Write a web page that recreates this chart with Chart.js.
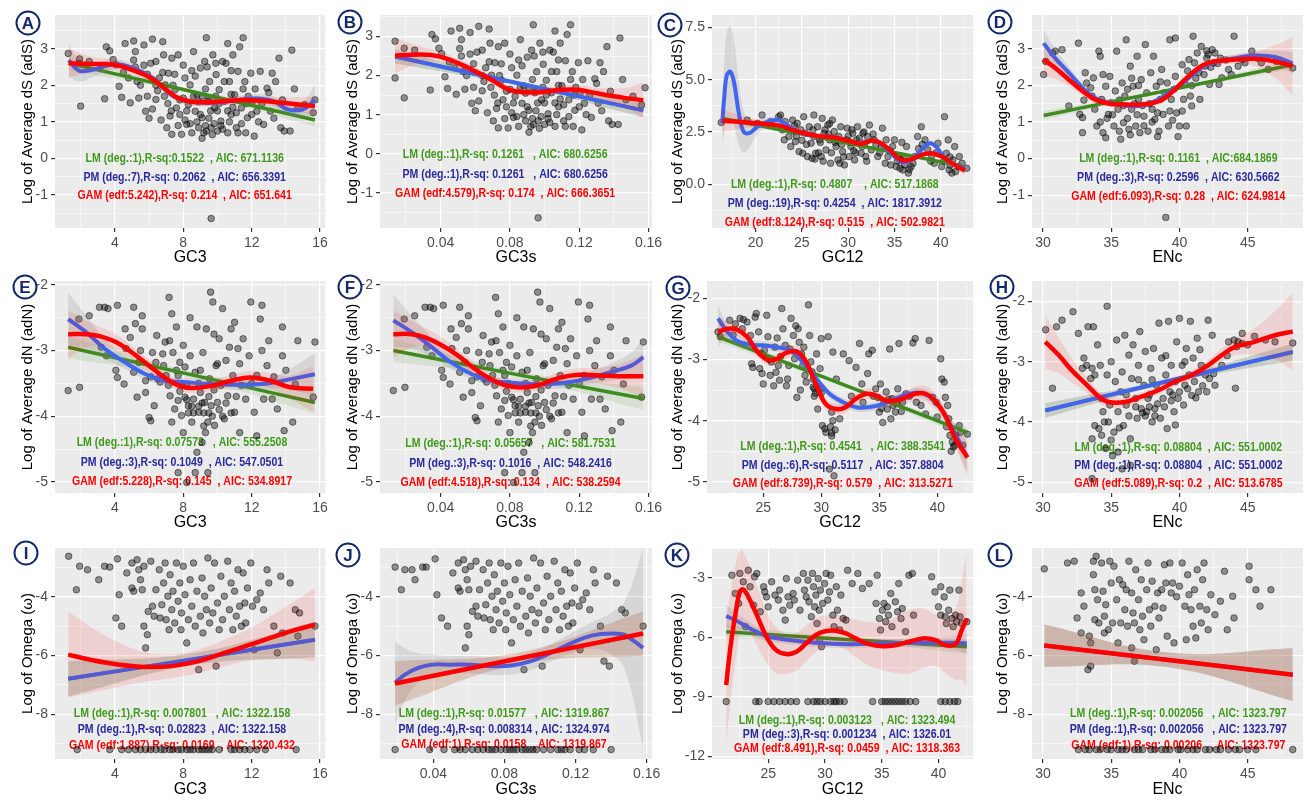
<!DOCTYPE html>
<html>
<head>
<meta charset="utf-8">
<title>adS / adN / omega regressions</title>
<script src="https://cdn.jsdelivr.net/npm/chart.js@4.4.1/dist/chart.umd.min.js"></script>
<style>
  body { margin: 0; width: 1309px; height: 800px; overflow: hidden; background: #fff; position: relative; }
  canvas { position: absolute; }
</style>
</head>
<body>
<script>
// ---- scatter points (x, y) per panel ----
const ptsA = [[1.27,2.87],[1.94,2.72],[1.9,2.6],[2.0,1.43],[2.5,2.65],[3.5,3.05],[3.7,2.94],[3.4,1.63],[4.06,2.56],[4.25,1.97],[4.6,3.14],[4.4,1.67],[4.9,1.52],[5.1,3.21],[5.1,2.69],[5.2,2.92],[5.3,2.1],[5.4,1.65],[5.7,3.1],[5.8,1.29],[6.0,1.1],[6.2,3.26],[6.4,2.65],[6.4,1.61],[6.6,2.2],[6.8,3.19],[6.85,2.83],[6.94,2.01],[7.04,0.84],[7.13,2.33],[7.23,1.16],[7.33,2.74],[7.33,0.66],[7.52,1.88],[7.6,1.38],[7.7,2.83],[7.8,1.2],[7.9,0.66],[8.0,1.65],[8.1,2.2],[8.2,0.93],[8.3,1.47],[8.4,2.01],[8.5,0.7],[8.6,2.92],[8.7,1.29],[8.8,1.74],[8.9,0.84],[9.0,2.47],[9.1,1.11],[9.1,0.55],[9.25,2.65],[9.35,0.75],[9.35,3.3],[9.44,1.56],[9.54,2.1],[9.63,0.84],[9.63,-1.64],[9.73,2.83],[9.83,1.38],[9.92,2.29],[10.0,0.75],[10.1,1.88],[10.2,1.02],[10.3,2.65],[10.4,1.56],[10.6,3.14],[10.6,0.7],[10.7,2.1],[10.8,1.2],[10.9,2.83],[11.0,1.74],[11.1,0.84],[11.2,2.38],[11.3,3.05],[11.4,1.38],[11.5,3.3],[11.6,2.1],[11.65,0.7],[11.75,1.11],[11.95,2.33],[12.05,1.56],[12.15,0.61],[12.3,1.29],[12.5,2.38],[12.7,0.93],[12.9,1.92],[13.1,1.29],[13.2,2.33],[13.4,2.1],[13.6,2.74],[13.7,0.84],[13.9,0.75],[14.25,0.75],[14.35,2.96],[14.7,1.38],[15.1,1.47],[15.6,1.25],[15.7,1.6],[7.5,2.3],[7.8,1.6],[8.2,1.3],[8.4,0.95],[8.7,2.25],[9.0,1.2],[9.2,0.7],[9.3,1.9],[9.6,1.3],[9.7,0.65],[9.9,1.7],[10.2,0.9],[10.4,2.1],[10.7,1.0],[10.9,1.4],[11.2,0.7],[6.2,1.35],[6.5,1.85],[6.1,2.6],[5.7,2.55],[5.9,1.7],[6.8,2.35],[7.1,1.5],[8.0,2.55],[9.4,2.5],[10.5,2.6],[11.8,1.7],[12.4,1.0],[13.0,1.8],[4.8,2.2],[5.5,2.0],[6.7,1.05],[8.9,1.55],[9.5,1.1],[10.0,1.3],[11.5,1.9],
  [7.3,1.3],[7.7,0.9],[8.1,1.05],[8.6,1.7],[8.8,1.0],[9.1,1.7],[9.3,0.9],[9.5,1.65],[9.8,0.95],[10.1,1.5],[10.3,0.8],[10.6,1.3],[10.8,1.75],[11.1,1.25],[11.4,0.95],[11.7,1.5],[12.0,1.2],[12.6,1.5],[13.3,1.1],[6.9,1.7],[7.4,2.0],[8.5,2.4],[9.9,2.6],[10.8,2.4],[12.2,1.9],[5.9,2.3],[6.4,2.0],[5.2,2.5],[4.5,2.35],[3.9,2.7],[13.8,1.6],[14.5,1.9]];
const ptsB = [[0.0137,2.88],[0.0137,1.94],[0.019,2.7],[0.019,1.43],[0.025,2.65],[0.035,3.05],[0.037,2.94],[0.034,1.63],[0.0406,2.56],[0.0425,1.97],[0.046,3.14],[0.044,1.67],[0.049,1.52],[0.051,3.21],[0.051,2.69],[0.052,2.92],[0.053,2.1],[0.054,1.65],[0.057,3.1],[0.058,1.29],[0.06,1.1],[0.062,3.26],[0.064,2.65],[0.064,1.61],[0.066,2.2],[0.068,3.19],[0.0685,2.83],[0.0694,2.01],[0.0704,0.84],[0.0713,2.33],[0.0723,1.16],[0.0733,2.74],[0.0733,0.66],[0.0752,1.88],[0.076,1.38],[0.077,2.83],[0.078,1.2],[0.079,0.66],[0.08,1.65],[0.081,2.2],[0.082,0.93],[0.083,1.47],[0.084,2.01],[0.085,0.7],[0.086,2.92],[0.087,1.29],[0.088,1.74],[0.089,0.84],[0.09,2.47],[0.091,1.11],[0.091,0.55],[0.0925,2.65],[0.0935,0.75],[0.0935,3.3],[0.0944,1.56],[0.0954,2.1],[0.0963,0.84],[0.0963,-1.64],[0.0973,2.83],[0.0983,1.38],[0.0992,2.29],[0.1,0.75],[0.101,1.88],[0.102,1.02],[0.103,2.65],[0.104,1.56],[0.106,3.14],[0.106,0.7],[0.107,2.1],[0.108,1.2],[0.109,2.83],[0.11,1.74],[0.111,0.84],[0.112,2.38],[0.113,3.05],[0.114,1.38],[0.115,3.3],[0.116,2.1],[0.1165,0.7],[0.1175,1.11],[0.1195,2.33],[0.1205,1.56],[0.1215,0.61],[0.123,1.29],[0.125,2.38],[0.127,0.93],[0.129,1.92],[0.131,1.29],[0.132,2.33],[0.134,2.1],[0.136,2.74],[0.137,0.84],[0.139,0.75],[0.1425,0.75],[0.1435,2.96],[0.147,1.38],[0.151,1.47],[0.156,1.25],[0.158,1.69],[0.075,2.3],[0.078,1.6],[0.082,1.3],[0.084,0.95],[0.087,2.25],[0.09,1.2],[0.092,0.7],[0.093,1.9],[0.096,1.3],[0.097,0.65],[0.099,1.7],[0.102,0.9],[0.104,2.1],[0.107,1.0],[0.109,1.4],[0.112,0.7],[0.062,1.35],[0.065,1.85],[0.061,2.6],[0.057,2.55],[0.059,1.7],[0.068,2.35],[0.071,1.5],[0.08,2.55],[0.094,2.5],[0.105,2.6],[0.118,1.7],[0.124,1.0],[0.13,1.8],[0.048,2.2],[0.055,2.0],[0.067,1.05],[0.089,1.55],[0.095,1.1],[0.1,1.3],[0.115,1.9],
  [0.073,1.3],[0.077,0.9],[0.081,1.05],[0.086,1.7],[0.088,1.0],[0.091,1.7],[0.093,0.9],[0.095,1.65],[0.098,0.95],[0.101,1.5],[0.103,0.8],[0.106,1.3],[0.108,1.75],[0.111,1.25],[0.114,0.95],[0.117,1.5],[0.12,1.2],[0.126,1.5],[0.133,1.1],[0.069,1.7],[0.074,2.0],[0.085,2.4],[0.099,2.6],[0.108,2.4],[0.122,1.9],[0.059,2.3],[0.064,2.0],[0.052,2.5],[0.045,2.35],[0.039,2.7],[0.138,1.6],[0.145,1.9]];
const ptsC = [[16.3,2.95],[19.1,3.07],[20.2,2.91],[20.7,3.31],[21.6,2.99],[22.2,2.75],[22.5,3.23],[22.7,3.31],[22.9,2.6],[23.1,2.12],[23.4,2.75],[23.6,2.28],[23.8,1.8],[24.0,3.07],[24.2,2.52],[24.3,2.04],[24.5,2.91],[24.7,1.56],[24.9,2.6],[25.1,1.48],[25.2,3.23],[25.4,2.44],[25.6,1.32],[25.8,2.75],[26.0,1.96],[26.1,1.24],[26.3,3.31],[26.3,2.28],[26.5,1.48],[26.7,2.75],[26.9,2.12],[27.1,1.32],[27.2,3.15],[27.4,2.44],[27.6,1.64],[27.8,2.83],[28.0,2.12],[28.1,1.0],[28.3,3.07],[28.5,2.52],[28.7,1.8],[28.9,1.16],[29.0,2.28],[29.2,2.75],[29.4,1.56],[29.6,0.92],[29.8,2.12],[29.9,2.68],[30.1,1.32],[30.3,1.8],[30.5,2.44],[30.7,1.16],[30.9,2.12],[31.0,2.75],[31.4,1.48],[31.6,2.44],[31.8,1.96],[31.9,1.32],[32.1,2.28],[32.3,2.83],[32.5,1.64],[32.8,2.12],[33.2,1.32],[33.6,1.8],[33.7,2.68],[34.1,2.12],[34.3,1.32],[34.6,0.92],[34.8,1.8],[35.0,2.12],[35.2,0.84],[35.4,1.32],[35.6,0.76],[35.7,1.16],[35.9,0.68],[36.1,0.92],[36.3,1.8],[36.5,0.53],[36.8,0.84],[37.2,1.32],[37.5,2.28],[37.9,2.75],[38.3,2.12],[38.6,1.64],[39.0,1.32],[39.3,1.0],[39.7,1.96],[40.1,0.84],[40.4,3.23],[40.6,1.48],[40.8,2.12],[40.9,0.68],[41.2,0.53],[41.3,1.16],[41.5,1.8],[41.9,0.84],[42.0,1.32],[42.8,0.76],[28.6,2.0],[29.3,1.9],[30.0,2.3],[30.6,1.6],[31.2,2.2],[26.8,1.5],[27.9,2.4],
  [24.4,2.3],[25.0,2.1],[25.5,1.9],[26.2,2.6],[27.0,2.0],[27.5,2.6],[28.2,1.5],[28.8,2.1],[29.5,1.3],[30.2,2.0],[30.8,1.5],[31.5,1.8],[32.0,1.1],[32.7,2.4],[33.4,1.5],[34.0,1.0],[34.5,1.6],[35.3,1.1],[36.0,1.3],[36.6,0.7],[37.0,1.0],[38.0,1.9],[38.9,1.1],[39.5,1.5],[40.3,1.1],[41.0,0.9],[41.6,0.6],[42.3,1.0],[26.4,1.2],[27.3,1.1],[29.1,1.0],[33.0,1.9],[35.8,2.0],[37.6,1.7],[41.0,1.3],[30.4,2.6],[31.7,2.5],[28.0,2.9],[24.2,2.8],[23.2,3.0]];
const ptsD = [[30.05,2.3],[30.2,2.66],[30.7,2.89],[30.9,2.94],[31.4,2.98],[31.9,1.44],[32.6,3.16],[32.7,1.21],[32.9,0.71],[32.9,1.12],[33.1,2.35],[33.2,2.07],[33.5,1.94],[33.6,1.71],[33.7,2.21],[33.8,1.35],[33.95,0.89],[34.1,2.94],[34.2,2.8],[34.3,1.62],[34.4,0.71],[34.6,1.98],[34.6,0.57],[34.8,1.21],[34.9,2.25],[35.0,1.53],[35.2,0.89],[35.3,1.85],[35.4,2.94],[35.5,1.35],[35.7,0.53],[35.8,2.07],[35.9,0.98],[36.0,1.71],[36.1,3.25],[36.3,0.8],[36.4,2.53],[36.5,1.35],[36.6,1.98],[36.8,0.89],[36.9,2.8],[37.0,1.62],[37.1,0.71],[37.2,2.16],[37.4,1.16],[37.5,3.12],[37.6,1.8],[37.7,0.75],[37.9,2.35],[38.0,1.35],[38.1,2.8],[38.2,1.07],[38.3,1.98],[38.5,0.75],[38.6,1.62],[38.7,2.44],[38.8,1.21],[39.0,-1.61],[39.1,2.07],[39.2,0.89],[39.3,3.25],[39.4,1.62],[39.7,3.3],[39.7,2.25],[39.8,1.25],[40.0,0.89],[40.2,2.57],[40.3,1.62],[40.4,2.07],[40.5,0.89],[40.7,2.71],[40.8,1.71],[40.9,1.44],[41.0,3.35],[41.1,2.62],[41.3,2.89],[41.4,2.35],[41.5,1.62],[41.6,3.07],[41.9,2.53],[42.0,2.75],[42.1,2.85],[42.2,2.03],[42.4,2.98],[42.5,2.62],[42.6,2.89],[42.9,2.03],[43.0,2.75],[43.1,2.21],[43.6,2.44],[44.0,3.35],[44.3,2.53],[44.6,2.71],[44.8,2.62],[45.3,2.94],[45.7,2.75],[46.0,2.62],[46.5,2.44],[47.1,2.66],[48.3,2.48],[36.2,1.1],[37.3,1.45],[38.4,1.25],[35.6,1.6],[39.5,1.05],[34.7,1.1],[36.7,1.5],
  [34.2,1.0],[35.1,1.2],[35.6,0.75],[36.2,1.9],[36.9,1.2],[37.4,0.9],[37.8,1.5],[38.4,0.6],[38.9,1.8],[39.3,1.3],[39.9,0.6],[35.9,1.45],[36.4,0.65],[37.0,2.0],[38.0,1.0],[39.6,1.9],[40.9,2.0],[41.8,2.3],[42.3,2.5],[42.8,2.6],[43.4,2.7],[41.2,2.2],[33.0,1.6],[34.4,2.3],[36.5,2.2],[38.6,2.1],[40.2,1.3],[40.6,2.4],[43.8,2.3],[42.0,2.95]];
const ptsE = [[1.27,-3.61],[1.94,-3.56],[1.9,-2.52],[2.5,-2.47],[3.1,-2.34],[3.4,-2.34],[3.6,-2.36],[3.2,-2.95],[3.5,-3.08],[4.06,-3.3],[4.15,-3.41],[4.15,-2.31],[4.54,-3.51],[4.6,-2.67],[4.65,-2.97],[5.1,-2.34],[5.1,-3.33],[5.2,-2.59],[5.3,-3.71],[5.4,-3.18],[5.6,-2.47],[5.6,-2.67],[5.8,-3.46],[5.8,-3.64],[6.1,-4.07],[6.2,-3.03],[6.3,-3.84],[6.4,-3.18],[6.45,-2.77],[6.5,-3.43],[6.65,-3.48],[6.85,-3.23],[6.94,-2.87],[7.0,-3.38],[7.13,-3.53],[7.17,-2.19],[7.23,-3.69],[7.33,-2.44],[7.33,-4.09],[7.4,-3.03],[7.5,-3.89],[7.6,-2.64],[7.7,-3.38],[7.7,-3.76],[7.8,-3.18],[7.9,-3.99],[8.0,-2.92],[8.0,-4.25],[8.1,-3.71],[8.2,-3.53],[8.3,-3.84],[8.4,-3.08],[8.5,-4.09],[8.6,-3.74],[8.7,-3.33],[8.7,-4.86],[8.8,-2.64],[8.9,-3.94],[9.0,-3.64],[9.1,-4.4],[9.15,-3.03],[9.25,-3.79],[9.35,-2.67],[9.44,-4.09],[9.44,-4.86],[9.54,-3.43],[9.6,-2.11],[9.63,-3.84],[9.73,-2.26],[9.83,-4.14],[9.92,-3.23],[10.0,-3.79],[10.1,-2.82],[10.2,-3.53],[10.3,-2.36],[10.4,-4.04],[10.5,-3.15],[10.6,-3.69],[10.8,-2.67],[10.9,-3.38],[11.0,-3.94],[11.0,-2.57],[11.2,-2.97],[11.3,-4.25],[11.4,-3.53],[11.5,-2.82],[11.65,-3.74],[11.85,-3.08],[11.95,-2.26],[12.15,-3.94],[12.3,-3.38],[12.5,-2.52],[12.6,-2.31],[12.7,-3.74],[12.9,-3.23],[13.0,-2.85],[13.2,-3.74],[13.5,-3.89],[13.8,-3.08],[13.8,-2.64],[13.9,-4.22],[14.4,-4.09],[14.55,-3.51],[14.7,-2.85],[15.6,-3.71],[15.7,-2.87],[7.7,-4.86],[8.2,-5.01],[6.0,-4.02],[8.8,-4.55],[12.3,-4.3],[8.3,-3.95],[8.9,-3.85],[9.2,-4.15],[9.5,-3.95],[9.8,-3.6],[8.5,-3.85],[9.1,-3.8],[7.8,-3.62],[9.3,-4.25],[10.3,-4.0],
  [7.9,-3.5],[8.2,-3.75],[8.6,-3.95],[8.9,-3.5],[9.2,-3.95],[9.5,-3.7],[9.7,-4.0],[10.1,-3.9],[10.5,-3.8],[10.8,-3.95],[11.1,-3.7],[7.6,-3.3],[8.1,-3.25],[9.0,-3.3],[10.0,-3.2],[11.3,-3.2],[12.0,-3.5],[6.8,-3.05],[7.2,-2.85],[6.1,-3.4],[5.5,-3.0],[4.9,-2.8],[12.6,-3.0],[13.3,-3.4],[14.0,-3.3],[10.7,-2.95],[9.8,-2.75],[8.4,-2.5]];
const ptsF = [[0.0127,-3.61],[0.0194,-3.56],[0.019,-2.52],[0.025,-2.47],[0.031,-2.34],[0.034,-2.34],[0.036,-2.36],[0.032,-2.95],[0.035,-3.08],[0.0406,-3.3],[0.0415,-3.41],[0.0415,-2.31],[0.0454,-3.51],[0.046,-2.67],[0.0465,-2.97],[0.051,-2.34],[0.051,-3.33],[0.052,-2.59],[0.053,-3.71],[0.054,-3.18],[0.056,-2.47],[0.056,-2.67],[0.058,-3.46],[0.058,-3.64],[0.061,-4.07],[0.062,-3.03],[0.063,-3.84],[0.064,-3.18],[0.0645,-2.77],[0.065,-3.43],[0.0665,-3.48],[0.0685,-3.23],[0.0694,-2.87],[0.07,-3.38],[0.0713,-3.53],[0.0717,-2.19],[0.0723,-3.69],[0.0733,-2.44],[0.0733,-4.09],[0.074,-3.03],[0.075,-3.89],[0.076,-2.64],[0.077,-3.38],[0.077,-3.76],[0.078,-3.18],[0.079,-3.99],[0.08,-2.92],[0.08,-4.25],[0.081,-3.71],[0.082,-3.53],[0.083,-3.84],[0.084,-3.08],[0.085,-4.09],[0.086,-3.74],[0.087,-3.33],[0.087,-4.86],[0.088,-2.64],[0.089,-3.94],[0.09,-3.64],[0.091,-4.4],[0.0915,-3.03],[0.0925,-3.79],[0.0935,-2.67],[0.0944,-4.09],[0.0944,-4.86],[0.0954,-3.43],[0.096,-2.11],[0.0963,-3.84],[0.0973,-2.26],[0.0983,-4.14],[0.0992,-3.23],[0.1,-3.79],[0.101,-2.82],[0.102,-3.53],[0.103,-2.36],[0.104,-4.04],[0.105,-3.15],[0.106,-3.69],[0.108,-2.67],[0.109,-3.38],[0.11,-3.94],[0.11,-2.57],[0.112,-2.97],[0.113,-4.25],[0.114,-3.53],[0.115,-2.82],[0.1165,-3.74],[0.1185,-3.08],[0.1195,-2.26],[0.1215,-3.94],[0.123,-3.38],[0.125,-2.52],[0.126,-2.31],[0.127,-3.74],[0.129,-3.23],[0.13,-2.85],[0.132,-3.74],[0.135,-3.89],[0.138,-3.08],[0.138,-2.64],[0.139,-4.22],[0.144,-4.09],[0.1455,-3.51],[0.147,-2.85],[0.156,-3.71],[0.157,-2.87],[0.077,-4.86],[0.082,-5.01],[0.06,-4.02],[0.088,-4.55],[0.123,-4.3],[0.083,-3.95],[0.089,-3.85],[0.092,-4.15],[0.095,-3.95],[0.098,-3.6],[0.085,-3.85],[0.091,-3.8],[0.078,-3.62],[0.093,-4.25],[0.103,-4.0],
  [0.079,-3.5],[0.082,-3.75],[0.086,-3.95],[0.089,-3.5],[0.092,-3.95],[0.095,-3.7],[0.097,-4.0],[0.101,-3.9],[0.105,-3.8],[0.108,-3.95],[0.111,-3.7],[0.076,-3.3],[0.081,-3.25],[0.09,-3.3],[0.1,-3.2],[0.113,-3.2],[0.12,-3.5],[0.068,-3.05],[0.072,-2.85],[0.061,-3.4],[0.055,-3.0],[0.049,-2.8],[0.126,-3.0],[0.133,-3.4],[0.14,-3.3],[0.107,-2.95],[0.098,-2.75],[0.084,-2.5]];
const ptsG = [[21.1,-2.55],[21.3,-2.63],[22.1,-2.36],[22.6,-2.42],[23.0,-2.33],[23.3,-2.35],[23.6,-2.39],[23.9,-2.61],[24.0,-3.07],[24.1,-3.13],[24.3,-2.31],[24.4,-2.25],[24.6,-2.55],[24.7,-3.15],[24.9,-3.23],[25.0,-3.4],[25.1,-2.85],[25.3,-2.28],[25.4,-2.63],[25.6,-3.26],[25.7,-3.04],[25.9,-3.43],[26.0,-2.8],[26.1,-3.21],[26.3,-3.1],[26.4,-3.34],[26.6,-2.17],[26.7,-2.5],[26.9,-2.77],[27.0,-3.43],[27.1,-3.32],[27.3,-2.83],[27.4,-2.33],[27.6,-2.61],[27.7,-2.99],[27.9,-3.62],[28.0,-2.5],[28.1,-2.72],[28.3,-2.91],[28.4,-3.1],[28.6,-3.26],[28.7,-3.37],[28.9,-2.11],[29.0,-2.61],[29.1,-3.04],[29.3,-3.32],[29.4,-3.48],[29.6,-2.91],[29.7,-3.81],[29.9,-3.15],[30.0,-2.66],[30.1,-4.08],[30.3,-4.13],[30.4,-4.19],[30.6,-2.63],[30.7,-4.79],[30.9,-3.86],[31.0,-2.88],[31.1,-4.9],[31.3,-3.32],[31.6,-3.97],[31.9,-2.91],[32.4,-3.02],[33.0,-3.13],[33.3,-2.74],[33.6,-3.7],[34.0,-3.23],[34.1,-2.91],[34.4,-2.85],[34.7,-3.48],[34.9,-3.62],[35.0,-3.86],[35.1,-3.4],[35.3,-4.03],[35.4,-3.7],[35.6,-3.53],[35.7,-3.81],[35.9,-2.83],[36.0,-3.97],[36.1,-3.64],[36.4,-3.86],[36.6,-3.48],[36.7,-2.74],[37.0,-3.7],[37.3,-3.56],[37.9,-2.73],[38.1,-2.66],[38.6,-3.75],[39.0,-3.89],[39.3,-2.69],[39.6,-3.62],[39.9,-3.7],[40.0,-3.94],[40.3,-2.99],[40.4,-3.32],[40.6,-3.37],[40.7,-3.62],[40.9,-3.75],[41.0,-3.97],[41.1,-4.24],[41.3,-4.35],[41.4,-4.43],[41.6,-4.24],[41.7,-4.33],[41.9,-4.08],[42.0,-4.19],[42.6,-4.22],[29.3,-3.45],[29.5,-3.55],[29.8,-3.5],[29.6,-3.38],[30.8,-4.1],[30.9,-4.2],[31.0,-4.0],[36.2,-3.75],[36.5,-3.72],
  [29.4,-3.6],[29.7,-3.4],[30.0,-3.55],[29.2,-3.2],[30.9,-4.25],[31.2,-4.15],[24.8,-2.9],[25.5,-3.0],[26.5,-2.95],[27.2,-3.1],[28.5,-2.8],[35.2,-3.8],[35.8,-3.65],[36.9,-3.85],[37.6,-3.6],[38.2,-3.7],[41.2,-4.5],[41.5,-4.4],[42.2,-4.4],[40.8,-4.1],[34.5,-3.6],[33.5,-3.4],[32.6,-3.6],[23.2,-2.5],[22.4,-2.6],[26.2,-2.65],[27.8,-2.45],[28.2,-3.5]];
const ptsH = [[30.2,-2.47],[30.7,-3.44],[31.0,-2.42],[31.4,-2.31],[32.2,-2.17],[32.6,-2.53],[32.9,-3.11],[33.0,-2.94],[33.2,-3.06],[33.3,-2.42],[33.5,-3.28],[33.6,-3.11],[33.6,-4.28],[33.7,-2.42],[33.8,-4.06],[33.8,-3.22],[34.0,-2.72],[34.1,-4.11],[34.2,-3.06],[34.3,-4.22],[34.3,-3.61],[34.4,-3.83],[34.6,-4.44],[34.7,-2.08],[34.7,-3.22],[34.8,-4.0],[34.9,-3.72],[35.0,-3.0],[35.1,-4.56],[35.2,-4.17],[35.3,-3.33],[35.4,-2.64],[35.5,-3.83],[35.5,-4.5],[35.7,-3.5],[35.8,-3.17],[35.9,-4.06],[36.0,-2.56],[36.1,-3.72],[36.3,-2.89],[36.4,-4.28],[36.5,-3.28],[36.6,-2.72],[36.8,-3.61],[36.9,-3.94],[37.0,-3.06],[37.1,-2.5],[37.2,-3.78],[37.4,-3.39],[37.5,-2.83],[37.6,-3.83],[37.7,-3.61],[37.9,-3.11],[38.0,-4.0],[38.1,-2.78],[38.2,-3.78],[38.3,-3.39],[38.5,-2.36],[38.6,-3.94],[38.7,-2.94],[38.8,-3.61],[39.0,-3.22],[39.1,-4.11],[39.2,-2.33],[39.3,-3.5],[39.4,-3.06],[39.6,-3.83],[39.7,-3.33],[39.8,-2.67],[39.9,-3.61],[40.0,-2.28],[40.2,-3.06],[40.3,-3.72],[40.4,-3.39],[40.5,-2.78],[40.7,-3.22],[40.8,-2.33],[40.9,-3.56],[41.0,-2.94],[41.1,-3.33],[41.3,-2.61],[41.4,-3.5],[41.6,-3.06],[41.9,-3.22],[42.1,-2.31],[42.2,-3.28],[42.4,-2.56],[42.6,-3.39],[43.1,-3.06],[43.6,-2.67],[44.0,-2.64],[44.1,-3.44],[44.3,-2.67],[44.6,-2.53],[45.0,-2.72],[45.5,-2.58],[46.3,-2.64],[47.0,-2.67],[48.3,-2.69],[33.6,-4.94],[35.8,-4.78],[36.4,-4.72],[37.8,-3.75],[38.4,-3.7],[37.5,-3.9],[39.5,-3.55],
  [36.3,-3.9],[36.8,-3.75],[37.3,-3.85],[37.8,-3.55],[38.2,-3.9],[38.9,-3.75],[39.4,-3.65],[40.0,-3.5],[40.6,-3.45],[41.2,-3.6],[41.7,-3.4],[42.0,-3.5],[42.5,-3.2],[35.0,-4.3],[34.5,-4.0],[35.6,-4.1],[37.0,-3.3],[38.0,-3.3],[39.0,-2.9],[40.4,-3.0],[41.5,-2.8],[43.5,-2.9],[44.6,-2.7],[44.2,-2.75],[39.7,-4.05],[36.1,-3.55]];
const ptsI = [[1.3,-2.62],[1.75,-3.76],[1.94,-2.96],[2.4,-3.08],[3.06,-3.42],[3.4,-2.96],[3.7,-2.99],[4.06,-4.72],[4.15,-2.71],[4.25,-3.93],[4.4,-5.0],[4.7,-3.19],[5.0,-3.7],[5.0,-2.85],[5.1,-3.81],[5.3,-2.74],[5.4,-3.08],[5.5,-3.42],[5.6,-3.76],[5.7,-2.96],[5.7,-5.0],[5.8,-5.74],[5.9,-5.29],[5.95,-4.5],[6.1,-2.79],[6.2,-4.32],[6.3,-4.66],[6.4,-3.76],[6.6,-3.08],[6.65,-4.72],[6.75,-4.27],[6.85,-3.53],[6.94,-2.85],[7.0,-4.78],[7.1,-3.98],[7.17,-5.12],[7.23,-3.25],[7.33,-4.44],[7.4,-3.81],[7.5,-4.89],[7.6,-2.85],[7.7,-4.15],[7.8,-3.53],[7.87,-5.12],[7.9,-4.55],[8.0,-2.96],[8.1,-3.93],[8.2,-5.57],[8.3,-4.78],[8.4,-3.42],[8.5,-4.32],[8.6,-2.85],[8.7,-5.0],[8.8,-3.81],[8.9,-6.48],[9.0,-4.66],[9.1,-3.36],[9.15,-5.23],[9.25,-3.98],[9.35,-4.44],[9.44,-2.68],[9.54,-4.89],[9.63,-3.7],[9.73,-4.55],[9.83,-2.85],[9.92,-6.36],[10.0,-4.21],[10.1,-5.12],[10.2,-3.3],[10.3,-4.78],[10.4,-3.98],[10.6,-2.79],[10.7,-4.44],[10.8,-3.53],[10.9,-5.12],[11.0,-3.81],[11.1,-4.66],[11.2,-3.08],[11.3,-4.32],[11.4,-5.0],[11.5,-3.19],[11.6,-4.21],[11.65,-4.89],[11.75,-3.7],[11.95,-2.85],[12.05,-4.32],[12.15,-5.8],[12.3,-4.1],[12.5,-3.87],[12.7,-4.44],[12.9,-3.08],[13.0,-3.53],[13.3,-5.0],[13.5,-5.91],[13.7,-3.3],[13.8,-5.23],[14.25,-3.53],[14.55,-4.44],[14.7,-5.34],[14.8,-4.55],[15.7,-5.0],
  [1.8,-9.2],[3.7,-9.2],[4.4,-9.2],[4.8,-9.2],[5.2,-9.2],[5.5,-9.2],[5.8,-9.2],[6.1,-9.2],[6.4,-9.2],[6.7,-9.2],[6.9,-9.2],[7.2,-9.2],[7.4,-9.2],[7.7,-9.2],[7.9,-9.2],[8.2,-9.2],[8.4,-9.2],[8.6,-9.2],[8.9,-9.2],[9.1,-9.2],[9.3,-9.2],[9.5,-9.2],[9.7,-9.2],[10.1,-9.2],[10.8,-9.2],[11.0,-9.2],[11.3,-9.2],[11.6,-9.2],[11.9,-9.2],[12.3,-9.2],[12.8,-9.2],[14.6,-9.2]];
const ptsJ = [[0.0185,-2.99],[0.022,-3.76],[0.024,-3.08],[0.028,-3.08],[0.0297,-3.42],[0.034,-2.99],[0.036,-2.99],[0.0446,-4.72],[0.041,-2.71],[0.042,-3.93],[0.048,-5.0],[0.051,-3.19],[0.054,-3.7],[0.054,-2.85],[0.055,-3.81],[0.057,-2.74],[0.058,-3.08],[0.059,-3.42],[0.06,-3.76],[0.061,-2.96],[0.059,-5.0],[0.058,-5.74],[0.06,-5.29],[0.062,-4.5],[0.064,-2.79],[0.064,-4.32],[0.065,-4.66],[0.066,-3.76],[0.068,-3.08],[0.0685,-4.72],[0.0695,-4.27],[0.0705,-3.53],[0.0714,-2.85],[0.072,-4.78],[0.073,-3.98],[0.0737,-5.12],[0.0743,-3.25],[0.0753,-4.44],[0.076,-3.81],[0.077,-4.89],[0.078,-2.85],[0.079,-4.15],[0.08,-3.53],[0.0807,-5.12],[0.081,-4.55],[0.082,-2.96],[0.083,-3.93],[0.084,-5.57],[0.085,-4.78],[0.086,-3.42],[0.087,-4.32],[0.088,-2.85],[0.089,-5.0],[0.09,-3.81],[0.091,-6.48],[0.092,-4.66],[0.093,-3.36],[0.0935,-5.23],[0.0945,-3.98],[0.0955,-4.44],[0.0964,-2.68],[0.0974,-4.89],[0.0983,-3.7],[0.0993,-4.55],[0.1003,-2.85],[0.1012,-6.36],[0.102,-4.21],[0.103,-5.12],[0.104,-3.3],[0.105,-4.78],[0.106,-3.98],[0.108,-2.79],[0.109,-4.44],[0.11,-3.53],[0.111,-5.12],[0.112,-3.81],[0.113,-4.66],[0.114,-3.08],[0.115,-4.32],[0.116,-5.0],[0.117,-3.19],[0.118,-4.21],[0.1185,-4.89],[0.1195,-3.7],[0.121,-2.85],[0.122,-4.32],[0.1225,-5.8],[0.124,-4.1],[0.126,-3.87],[0.128,-4.44],[0.13,-3.08],[0.131,-3.53],[0.134,-5.0],[0.136,-6.19],[0.138,-3.3],[0.139,-6.36],[0.143,-3.53],[0.146,-4.44],[0.147,-5.34],[0.148,-4.55],[0.158,-5.0],
  [0.0185,-9.2],[0.038,-9.2],[0.046,-9.2],[0.052,-9.2],[0.055,-9.2],[0.058,-9.2],[0.062,-9.2],[0.065,-9.2],[0.068,-9.2],[0.071,-9.2],[0.073,-9.2],[0.075,-9.2],[0.078,-9.2],[0.081,-9.2],[0.083,-9.2],[0.085,-9.2],[0.087,-9.2],[0.09,-9.2],[0.092,-9.2],[0.094,-9.2],[0.096,-9.2],[0.098,-9.2],[0.102,-9.2],[0.106,-9.2],[0.11,-9.2],[0.112,-9.2],[0.114,-9.2],[0.117,-9.2],[0.122,-9.2],[0.125,-9.2],[0.13,-9.2],[0.14,-9.2]];
const ptsK = [[21.8,-2.87],[22.1,-3.79],[22.4,-4.29],[22.5,-2.78],[22.8,-3.2],[23.0,-5.46],[23.25,-2.62],[23.4,-3.45],[23.7,-4.38],[23.8,-2.95],[24.0,-2.78],[24.3,-4.71],[24.6,-3.45],[24.7,-3.71],[24.85,-3.96],[25.0,-4.46],[25.3,-3.2],[25.6,-3.87],[25.9,-4.12],[26.0,-3.62],[26.3,-4.63],[26.5,-5.13],[26.6,-3.04],[26.75,-3.96],[26.9,-4.38],[27.2,-3.79],[27.3,-4.12],[27.6,-3.12],[27.8,-4.63],[28.1,-2.78],[28.2,-3.62],[28.35,-3.96],[28.5,-3.12],[28.6,-4.21],[28.8,-4.96],[28.9,-2.78],[29.0,-3.45],[29.1,-4.46],[29.2,-3.87],[29.3,-5.3],[29.4,-3.04],[29.5,-4.63],[29.5,-6.13],[29.6,-3.62],[29.7,-6.47],[29.8,-4.29],[29.96,-3.29],[30.1,-2.78],[30.25,-4.12],[30.4,-3.71],[30.5,-2.87],[30.7,-4.88],[30.8,-5.46],[31.0,-3.45],[31.1,-4.63],[31.3,-5.63],[31.4,-3.87],[31.6,-5.05],[31.85,-5.13],[32.0,-2.62],[32.4,-3.29],[32.9,-2.78],[33.3,-3.54],[33.9,-3.29],[34.5,-4.29],[34.6,-2.87],[34.8,-5.05],[34.9,-5.63],[35.06,-4.63],[35.2,-4.29],[35.35,-5.21],[35.5,-4.46],[35.6,-4.88],[35.8,-3.79],[35.9,-5.46],[36.2,-4.21],[36.4,-4.71],[36.5,-3.29],[36.7,-5.05],[36.8,-4.55],[37.1,-5.71],[37.4,-2.87],[37.7,-2.78],[37.8,-4.88],[39.4,-2.95],[39.7,-3.71],[40.0,-4.46],[40.2,-4.88],[40.2,-3.45],[40.5,-3.96],[40.6,-4.96],[40.7,-5.3],[40.9,-4.63],[41.0,-3.62],[41.2,-5.05],[41.3,-5.46],[41.5,-4.88],[41.6,-5.21],[41.8,-3.62],[41.9,-4.96],[42.05,-5.3],[42.5,-5.21],
  [21.3,-9.23],[23.9,-9.23],[24.2,-9.23],[25.0,-9.23],[25.5,-9.23],[26.0,-9.23],[26.5,-9.23],[27.0,-9.23],[27.5,-9.23],[28.5,-9.23],[29.0,-9.23],[29.3,-9.23],[29.6,-9.23],[30.0,-9.23],[30.5,-9.23],[30.8,-9.23],[31.0,-9.23],[31.3,-9.23],[31.7,-9.23],[34.2,-9.23],[35.0,-9.23],[35.3,-9.23],[35.6,-9.23],[35.9,-9.23],[36.2,-9.23],[36.5,-9.23],[36.8,-9.23],[37.1,-9.23],[37.5,-9.23],[38.0,-9.23],[40.2,-9.23],[40.6,-9.23],[41.0,-9.23],[41.4,-9.23],[41.7,-9.23]];
const ptsL = [[30.1,-3.05],[31.8,-2.85],[32.3,-2.79],[32.5,-4.72],[32.8,-3.87],[32.8,-5.23],[33.0,-4.32],[33.3,-6.48],[33.5,-6.36],[33.4,-5.34],[33.5,-5.57],[33.7,-2.79],[33.7,-3.25],[33.8,-3.76],[33.8,-4.78],[33.9,-2.62],[34.0,-4.1],[34.1,-4.89],[34.3,-2.85],[34.4,-3.81],[34.5,-5.23],[34.5,-4.66],[34.6,-4.27],[34.8,-5.12],[34.9,-2.79],[35.0,-3.53],[35.1,-4.89],[35.2,-2.96],[35.4,-4.1],[35.5,-5.57],[35.6,-3.42],[35.7,-4.89],[35.85,-3.59],[36.0,-4.44],[36.1,-3.76],[36.2,-5.0],[36.3,-2.79],[36.5,-3.87],[36.5,-5.74],[36.6,-4.55],[36.7,-6.19],[36.7,-4.89],[36.8,-3.08],[37.0,-4.1],[37.1,-5.12],[37.2,-3.42],[37.3,-4.66],[37.4,-5.46],[37.6,-3.76],[37.7,-2.85],[37.8,-4.44],[37.9,-5.0],[38.0,-3.47],[38.2,-4.32],[38.3,-5.8],[38.4,-3.87],[38.5,-4.72],[38.7,-3.76],[38.8,-4.38],[38.9,-2.91],[39.0,-3.53],[39.1,-5.34],[39.3,-2.85],[39.4,-3.87],[39.5,-3.53],[39.6,-5.57],[39.8,-4.0],[40.0,-3.64],[40.2,-2.85],[40.4,-4.32],[40.5,-5.46],[40.6,-3.25],[40.7,-3.93],[40.85,-4.44],[41.0,-5.0],[41.1,-3.76],[41.2,-5.4],[41.3,-3.08],[41.5,-4.32],[41.6,-4.89],[41.7,-3.42],[41.8,-2.85],[42.0,-4.44],[42.1,-5.12],[42.3,-3.93],[42.6,-4.61],[43.0,-4.15],[43.3,-3.13],[43.5,-5.12],[43.9,-3.98],[44.0,-4.72],[45.1,-2.96],[45.1,-3.42],[45.6,-3.76],[45.9,-4.32],[46.7,-3.76],
  [32.6,-9.2],[33.1,-9.2],[33.4,-9.2],[33.9,-9.2],[34.2,-9.2],[34.7,-9.2],[35.0,-9.2],[35.5,-9.2],[35.8,-9.2],[36.1,-9.2],[36.7,-9.2],[37.0,-9.2],[37.3,-9.2],[37.9,-9.2],[38.2,-9.2],[38.7,-9.2],[39.0,-9.2],[39.3,-9.2],[39.9,-9.2],[40.1,-9.2],[40.6,-9.2],[41.0,-9.2],[41.3,-9.2],[41.9,-9.2],[42.2,-9.2],[42.7,-9.2],[43.0,-9.2],[43.6,-9.2],[44.1,-9.2],[44.4,-9.2],[45.0,-9.2],[45.6,-9.2],[48.3,-9.2]];

// ---- fitted curves: [x, fitted y, half width of the confidence band] ----
const lmA = [[1.3,2.6,0.18],[8.5,1.83,0.06],[15.7,1.05,0.18]];
const pmA = [[1.3,2.69,0.45],[1.9,2.4,0.3],[2.7,2.42,0.2],[3.9,2.57,0.14],[5.0,2.48,0.12],[6.2,2.2,0.1],[7.3,1.74,0.1],[8.3,1.56,0.1],[9.8,1.52,0.1],[11.2,1.6,0.1],[12.3,1.64,0.12],[13.3,1.56,0.13],[14.1,1.34,0.15],[15.0,1.34,0.22],[15.7,1.6,0.4]];
const gamA = [[1.3,2.6,0.4],[2.7,2.58,0.2],[4.0,2.56,0.14],[5.0,2.42,0.12],[6.1,2.2,0.11],[7.0,1.88,0.1],[7.7,1.65,0.1],[8.5,1.55,0.1],[10.0,1.55,0.1],[11.5,1.6,0.11],[12.5,1.58,0.12],[13.8,1.52,0.15],[15.7,1.43,0.25]];
const lmB = [[0.0137,2.49,0.18],[0.085,1.8,0.06],[0.157,1.11,0.18]];
const gamB = [[0.0137,2.51,0.45],[0.029,2.54,0.2],[0.039,2.49,0.14],[0.05,2.32,0.12],[0.06,2.11,0.11],[0.069,1.9,0.1],[0.077,1.69,0.1],[0.083,1.6,0.1],[0.096,1.57,0.1],[0.108,1.63,0.1],[0.119,1.64,0.12],[0.131,1.54,0.15],[0.146,1.43,0.25],[0.157,1.37,0.45]];
const lmC = [[16.4,3.15,0.15],[29.5,2.0,0.04],[42.6,0.84,0.1]];
const pmC = [[16.4,2.91,1.0],[16.6,4.03,1.6],[16.9,5.22,2.1],[17.3,5.38,2.2],[17.7,4.82,2.0],[18.2,3.39,1.5],[18.7,2.52,1.0],[19.3,2.44,0.7],[20.2,2.75,0.35],[21.3,2.99,0.2],[22.4,3.07,0.15],[23.4,2.83,0.12],[24.5,2.52,0.1],[25.6,2.36,0.1],[26.7,2.31,0.1],[28.5,2.25,0.1],[30.3,2.04,0.1],[31.4,1.93,0.1],[32.8,2.07,0.1],[34.3,1.64,0.1],[35.7,1.08,0.1],[36.8,1.16,0.1],[37.9,1.64,0.12],[38.8,1.96,0.12],[39.5,1.8,0.12],[40.4,1.24,0.12],[41.5,0.92,0.15],[42.6,0.76,0.25]];
const gamC = [[16.4,3.04,0.55],[19.1,2.95,0.25],[21.3,2.87,0.12],[22.7,2.79,0.1],[24.5,2.52,0.08],[26.7,2.31,0.07],[28.5,2.23,0.07],[30.3,2.04,0.07],[31.4,1.93,0.07],[32.8,2.09,0.08],[34.3,1.72,0.08],[35.7,1.16,0.1],[36.8,1.19,0.1],[37.9,1.4,0.1],[39.0,1.48,0.1],[40.1,1.32,0.1],[41.5,0.92,0.12],[42.6,0.65,0.22]];
const lmD = [[30.05,1.18,0.12],[39.2,1.87,0.04],[48.3,2.57,0.12]];
const pmD = [[30.05,3.16,0.35],[30.9,2.75,0.25],[31.9,2.35,0.17],[32.9,1.94,0.12],[33.8,1.66,0.1],[34.8,1.53,0.08],[36.0,1.45,0.07],[37.2,1.45,0.07],[38.5,1.62,0.07],[39.4,1.85,0.07],[40.4,2.12,0.07],[41.6,2.48,0.08],[42.6,2.64,0.08],[44.1,2.75,0.09],[45.5,2.82,0.11],[47.0,2.78,0.18],[48.3,2.6,0.3]];
const gamD = [[30.05,2.71,0.45],[30.9,2.48,0.3],[31.9,2.16,0.18],[32.9,1.85,0.13],[33.8,1.62,0.1],[34.8,1.51,0.09],[36.0,1.48,0.08],[37.2,1.48,0.08],[38.5,1.57,0.08],[39.4,1.8,0.09],[40.4,2.16,0.1],[41.6,2.53,0.1],[42.6,2.66,0.1],[44.1,2.71,0.13],[45.5,2.73,0.2],[47.0,2.66,0.45],[48.3,2.53,0.8]];
const lmE = [[1.27,-2.95,0.17],[8.5,-3.37,0.05],[15.7,-3.79,0.17]];
const pmE = [[1.27,-2.52,0.4],[2.33,-2.72,0.25],[3.4,-2.97,0.15],[4.6,-3.18,0.1],[5.8,-3.36,0.08],[6.9,-3.46,0.07],[8.0,-3.48,0.07],[9.6,-3.51,0.07],[11.1,-3.52,0.08],[12.6,-3.51,0.08],[13.8,-3.46,0.12],[15.7,-3.36,0.32]];
const gamE = [[1.27,-2.75,0.37],[2.33,-2.75,0.2],[3.1,-2.78,0.15],[4.06,-2.87,0.12],[5.0,-3.03,0.1],[6.0,-3.23,0.09],[6.9,-3.41,0.08],[7.7,-3.53,0.08],[8.5,-3.57,0.08],[9.6,-3.54,0.08],[10.8,-3.46,0.09],[11.9,-3.41,0.1],[13.1,-3.46,0.12],[14.25,-3.56,0.18],[15.6,-3.58,0.35]];
const lmF = [[0.0127,-3.0,0.17],[0.085,-3.37,0.05],[0.157,-3.73,0.17]];
const pmF = [[0.0127,-2.54,0.4],[0.0233,-2.72,0.25],[0.035,-2.95,0.15],[0.046,-3.18,0.1],[0.058,-3.36,0.08],[0.0694,-3.46,0.07],[0.081,-3.49,0.07],[0.092,-3.51,0.07],[0.104,-3.51,0.08],[0.115,-3.48,0.08],[0.127,-3.41,0.1],[0.138,-3.33,0.13],[0.15,-3.23,0.2],[0.157,-3.1,0.3]];
const gamF = [[0.0127,-2.75,0.37],[0.0233,-2.75,0.2],[0.031,-2.8,0.15],[0.0406,-2.92,0.12],[0.0502,-3.08,0.1],[0.0598,-3.28,0.09],[0.0694,-3.44,0.08],[0.079,-3.54,0.08],[0.0887,-3.56,0.08],[0.0983,-3.51,0.08],[0.1079,-3.42,0.09],[0.1194,-3.37,0.1],[0.131,-3.38,0.12],[0.1425,-3.39,0.18],[0.157,-3.39,0.33]];
const lmG = [[21.1,-2.63,0.08],[31.9,-3.41,0.03],[42.6,-4.19,0.08]];
const pmG = [[21.1,-2.33,0.2],[21.9,-2.55,0.12],[22.7,-2.69,0.1],[23.9,-2.76,0.08],[25.0,-2.77,0.07],[26.1,-2.8,0.07],[27.3,-2.85,0.07],[28.4,-3.04,0.07],[29.6,-3.32,0.07],[30.7,-3.56,0.07],[31.9,-3.7,0.07],[33.0,-3.78,0.07],[34.1,-3.78,0.07],[35.3,-3.73,0.07],[36.4,-3.64,0.07],[37.6,-3.56,0.07],[38.7,-3.55,0.08],[39.9,-3.7,0.09],[41.0,-4.03,0.12],[42.6,-4.6,0.25]];
const gamG = [[21.1,-2.55,0.25],[21.9,-2.5,0.12],[22.7,-2.51,0.1],[23.6,-2.63,0.09],[24.4,-2.85,0.09],[25.3,-3.0,0.09],[26.1,-3.0,0.09],[27.0,-2.89,0.09],[27.9,-2.87,0.09],[28.7,-3.04,0.09],[29.6,-3.43,0.09],[30.4,-3.73,0.09],[31.3,-3.81,0.09],[32.1,-3.78,0.09],[33.0,-3.64,0.09],[33.9,-3.56,0.09],[34.7,-3.59,0.09],[35.6,-3.67,0.09],[36.4,-3.67,0.09],[37.3,-3.62,0.1],[38.1,-3.56,0.12],[39.0,-3.56,0.13],[39.9,-3.7,0.13],[40.7,-3.92,0.13],[41.6,-4.3,0.15],[42.6,-4.6,0.3]];
const lmH = [[30.17,-3.81,0.12],[39.2,-3.32,0.04],[48.3,-2.84,0.14]];
const gamH = [[30.17,-2.67,0.45],[31.15,-2.89,0.3],[32.1,-3.14,0.2],[33.1,-3.36,0.14],[34.1,-3.58,0.1],[34.8,-3.67,0.09],[36.0,-3.67,0.08],[37.2,-3.58,0.07],[38.5,-3.47,0.07],[39.7,-3.33,0.07],[40.9,-3.22,0.08],[42.1,-3.06,0.09],[43.1,-2.89,0.11],[44.1,-2.75,0.14],[45.5,-2.67,0.22],[47.0,-2.56,0.4],[48.3,-2.5,0.65]];
const lmI = [[1.27,-6.79,0.6],[8.5,-6.13,0.2],[15.7,-5.46,0.6]];
const gamI = [[1.27,-5.97,1.47],[2.7,-6.16,1.1],[4.25,-6.31,0.75],[5.8,-6.39,0.5],[7.3,-6.36,0.4],[8.9,-6.19,0.4],[10.4,-5.91,0.45],[11.9,-5.63,0.55],[13.5,-5.32,0.8],[14.6,-5.12,1.0],[15.7,-4.95,1.25]];
const lmJ = [[0.0185,-6.95,0.75],[0.088,-6.1,0.2],[0.158,-5.25,0.75]];
const pmJ = [[0.0185,-6.93,1.4],[0.024,-6.65,0.9],[0.0315,-6.42,0.5],[0.039,-6.31,0.35],[0.05,-6.31,0.3],[0.061,-6.31,0.3],[0.073,-6.36,0.3],[0.084,-6.34,0.3],[0.095,-6.19,0.3],[0.106,-5.91,0.3],[0.118,-5.57,0.35],[0.129,-5.32,0.45],[0.14,-5.25,0.7],[0.148,-5.32,1.2],[0.158,-5.74,3.4]];
const lmK = [[21.3,-5.72,0.35],[31.9,-6.1,0.12],[42.5,-6.47,0.35]];
const pmK = [[21.3,-4.93,0.6],[22.2,-5.16,0.4],[23.4,-5.55,0.3],[24.85,-5.93,0.25],[26.9,-6.13,0.2],[29.2,-6.27,0.2],[32.1,-6.34,0.2],[35.06,-6.3,0.2],[38.0,-6.27,0.22],[40.9,-6.27,0.3],[42.5,-6.3,0.5]];
const gamK = [[21.3,-8.4,3.0],[21.5,-7.31,2.9],[21.8,-5.97,2.7],[22.2,-4.54,2.4],[22.5,-3.71,2.1],[22.8,-3.59,1.9],[23.25,-3.96,1.7],[24.0,-4.88,1.5],[24.85,-5.97,1.3],[25.7,-6.64,1.15],[26.6,-6.84,1.0],[27.5,-6.72,0.95],[28.35,-6.3,0.9],[29.2,-5.88,0.85],[30.1,-5.68,0.8],[30.98,-5.66,0.8],[31.85,-5.8,0.85],[32.7,-6.05,0.95],[33.9,-6.34,1.1],[35.06,-6.44,1.2],[36.2,-6.39,1.4],[37.4,-6.22,1.6],[38.6,-6.05,1.5],[39.7,-6.13,1.3],[40.6,-6.39,1.4],[41.5,-6.34,1.8],[42.05,-5.63,2.5],[42.5,-5.05,3.5]];
const lmL = [[30.1,-5.66,0.72],[39.2,-6.15,0.25],[48.3,-6.65,0.9]];

// ---- annotation texts ----
const notesA = ['LM (deg.:1),R-sq:0.1522  , AIC: 671.1136', 'PM (deg.:7),R-sq: 0.2062  , AIC: 656.3391', 'GAM (edf:5.242),R-sq: 0.214  , AIC: 651.641'];
const notesB = ['LM (deg.:1),R-sq: 0.1261   , AIC: 680.6256', 'PM (deg.:1),R-sq: 0.1261   , AIC: 680.6256', 'GAM (edf:4.579),R-sq: 0.174  , AIC: 666.3651'];
const notesC = ['LM (deg.:1),R-sq: 0.4807    , AIC: 517.1868', 'PM (deg.:19),R-sq: 0.4254  , AIC: 1817.3912', 'GAM (edf:8.124),R-sq: 0.515  , AIC: 502.9821'];
const notesD = ['LM (deg.:1),R-sq: 0.1161  , AIC:684.1869', 'PM (deg.:3),R-sq: 0.2596  , AIC: 630.5662', 'GAM (edf:6.093),R-sq: 0.28  , AIC: 624.9814'];
const notesE = ['LM (deg.:1),R-sq: 0.07573   , AIC: 555.2508', 'PM (deg.:3),R-sq: 0.1049  , AIC: 547.0501', 'GAM (edf:5.228),R-sq: 0.145  , AIC: 534.8917'];
const notesF = ['LM (deg.:1),R-sq: 0.05657   , AIC: 581.7531', 'PM (deg.:3),R-sq: 0.1016  , AIC: 548.2416', 'GAM (edf:4.518),R-sq: 0.134  , AIC: 538.2594'];
const notesG = ['LM (deg.:1),R-sq: 0.4541   , AIC: 388.3541', 'PM (deg.:6),R-sq: 0.5117  , AIC: 357.8804', 'GAM (edf:8.739),R-sq: 0.579  , AIC: 313.5271'];
const notesH = ['LM (deg.:1),R-sq: 0.08804  , AIC: 551.0002', 'PM (deg.:1),R-sq: 0.08804  , AIC: 551.0002', 'GAM (edf:5.089),R-sq: 0.2  , AIC: 513.6785'];
const notesI = ['LM (deg.:1),R-sq: 0.007801   , AIC: 1322.158', 'PM (deg.:1),R-sq: 0.02823  , AIC: 1322.158', 'GAM (edf:1.887),R-sq: 0.0169  , AIC: 1320.432'];
const notesJ = ['LM (deg.:1),R-sq: 0.01577   , AIC: 1319.867', 'PM (deg.:4),R-sq: 0.008314 , AIC: 1324.974', 'GAM (edf:1),R-sq: 0.0158  , AIC: 1319.867'];
const notesK = ['LM (deg.:1),R-sq: 0.003123   , AIC: 1323.494', 'PM (deg.:3),R-sq: 0.001234  , AIC: 1326.01', 'GAM (edf:8.491),R-sq: 0.0459  , AIC: 1318.363'];
const notesL = ['LM (deg.:1),R-sq: 0.002056   , AIC: 1323.797', 'PM (deg.:1),R-sq: 0.002056   , AIC: 1323.797', 'GAM (edf:1),R-sq: 0.00206   , AIC: 1323.797'];

const yDS = 'Log of Average dS (adS)';
const yDN = 'Log of Average dN (adN)';
const yOM = 'Log of Omega (\u03c9)';

// ---- layout ----
const COLS = [{l: 0, w: 330, tp: 18.8}, {l: 330, w: 334, tp: 13.8}, {l: 655, w: 323, tp: 13.8}, {l: 978, w: 331, tp: 15.8}];
const ROWS = [{t: 0, h: 272}, {t: 265, h: 272}, {t: 530, h: 274}];

const panels = [
  {id: 'A', col: 0, row: 0, pts: ptsA, lm: lmA, pm: pmA, gam: gamA, notes: notesA, xr: [0.5, 16.3], yr: [-1.9, 3.92], xs: 4, ys: 1, xd: 0, yd: 0, xt: 'GC3', yt: yDS, plot: [55, 15, 328, 228], fx: 0.48, ty: 159, gap: 18.5, badge: [28, 23]},
  {id: 'B', col: 1, row: 0, pts: ptsB, lm: lmB, pm: lmB, gam: gamB, notes: notesB, xr: [0.005, 0.162], yr: [-1.9, 3.55], xs: 0.04, ys: 1, xd: 2, yd: 0, xt: 'GC3s', yt: yDS, plot: [380, 15, 652, 228], fx: 0.46, ty: 155, gap: 19.5, badge: [350, 22]},
  {id: 'C', col: 2, row: 0, pts: ptsC, lm: lmC, pm: pmC, gam: gamC, notes: notesC, xr: [15.3, 43.5], yr: [-2.1, 8.1], xs: 5, ys: 2.5, xd: 0, yd: 1, xt: 'GC12', yt: yDS, plot: [712, 15, 975, 228], fx: 0.47, ty: 185, gap: 19, badge: [670, 25]},
  {id: 'D', col: 3, row: 0, pts: ptsD, lm: lmD, pm: pmD, gam: gamD, notes: notesD, xr: [29.2, 49.05], yr: [-1.9, 3.93], xs: 5, ys: 1, xd: 0, yd: 0, xt: 'ENc', yt: yDS, plot: [1032, 15, 1303, 228], fx: 0.54, ty: 159, gap: 18.7, badge: [1000, 22]},
  {id: 'E', col: 0, row: 1, pts: ptsE, lm: lmE, pm: pmE, gam: gamE, notes: notesE, xr: [0.5, 16.3], yr: [-5.17, -1.94], xs: 4, ys: 1, xd: 0, yd: 0, xt: 'GC3', yt: yDN, plot: [55, 281, 328, 493], fx: 0.47, ty: 443, gap: 19.5, badge: [25, 287]},
  {id: 'F', col: 1, row: 1, pts: ptsF, lm: lmF, pm: pmF, gam: gamF, notes: notesF, xr: [0.005, 0.162], yr: [-5.17, -1.94], xs: 0.04, ys: 1, xd: 2, yd: 0, xt: 'GC3s', yt: yDN, plot: [380, 281, 652, 493], fx: 0.48, ty: 444, gap: 19.2, badge: [350, 287]},
  {id: 'G', col: 2, row: 1, pts: ptsG, lm: lmG, pm: pmG, gam: gamG, notes: notesG, xr: [20.15, 43.1], yr: [-5.18, -1.72], xs: 5, ys: 1, xd: 0, yd: 0, xt: 'GC12', yt: yDN, plot: [707, 281, 975, 493], fx: 0.51, ty: 447, gap: 18.3, badge: [678, 288]},
  {id: 'H', col: 3, row: 1, pts: ptsH, lm: lmH, pm: lmH, gam: gamH, notes: notesH, xr: [29.2, 49.05], yr: [-5.18, -1.66], xs: 5, ys: 1, xd: 0, yd: 0, xt: 'ENc', yt: yDN, plot: [1032, 281, 1303, 493], fx: 0.54, ty: 448, gap: 17.8, badge: [1002, 287]},
  {id: 'I', col: 0, row: 2, pts: ptsI, lm: lmI, pm: lmI, gam: gamI, notes: notesI, xr: [0.5, 16.3], yr: [-9.52, -2.34], xs: 4, ys: 2, xd: 0, yd: 0, xt: 'GC3', yt: yOM, plot: [55, 548, 328, 759], fx: 0.47, ty: 714, gap: 15.8, badge: [26, 553]},
  {id: 'J', col: 1, row: 2, pts: ptsJ, lm: lmJ, pm: pmJ, gam: lmJ, notes: notesJ, xr: [0.01, 0.163], yr: [-9.52, -2.34], xs: 0.04, ys: 2, xd: 2, yd: 0, xt: 'GC3s', yt: yOM, plot: [380, 548, 652, 759], fx: 0.456, ty: 714, gap: 15.4, badge: [348, 555]},
  {id: 'K', col: 2, row: 2, pts: ptsK, lm: lmK, pm: pmK, gam: gamK, notes: notesK, xr: [20.05, 43.06], yr: [-12.12, -1.5], xs: 5, ys: 3, xd: 0, yd: 0, xt: 'GC12', yt: yOM, plot: [712, 548, 975, 759], fx: 0.517, ty: 721, gap: 13.8, badge: [677, 555]},
  {id: 'L', col: 3, row: 2, pts: ptsL, lm: lmL, pm: lmL, gam: lmL, notes: notesL, xr: [29.2, 49.05], yr: [-9.52, -2.34], xs: 5, ys: 2, xd: 0, yd: 0, xt: 'ENc', yt: yOM, plot: [1032, 548, 1303, 759], fx: 0.54, ty: 714, gap: 15.8, badge: [1000, 555]}
];

const NOTE_COLORS = ['#3f9a1c', '#2a2a9e', '#ff0000'];
const NAVY = '#14296a';
Chart.defaults.font.family = '"Liberation Sans", Arial, sans-serif';

function isMajor(v, s) { const r = v / s; return Math.abs(r - Math.round(r)) < 1e-6; }

function curve(arr, color, w, ord) {
  return {data: arr.map(r => ({x: r[0], y: r[1]})), borderColor: color, borderWidth: w, pointRadius: 0,
    tension: 0.4, fill: false, order: ord, clip: 0};
}
function band(arr, color, ord) {
  return [
    {data: arr.map(r => ({x: r[0], y: r[1] + r[2]})), borderColor: 'transparent', borderWidth: 0, pointRadius: 0,
      tension: 0.4, fill: '+1', backgroundColor: color, order: ord, clip: 0},
    {data: arr.map(r => ({x: r[0], y: r[1] - r[2]})), borderColor: 'transparent', borderWidth: 0, pointRadius: 0,
      tension: 0.4, fill: false, order: ord, clip: 0}
  ];
}

// grey panel background
const panelBg = {
  id: 'panelBg',
  beforeDraw(c) {
    const a = c.chartArea, ctx = c.ctx;
    ctx.save();
    ctx.fillStyle = '#ebebeb';
    ctx.fillRect(a.left, a.top, a.right - a.left, a.bottom - a.top);
    ctx.restore();
  }
};

// model text and circled panel letter
const notesPlugin = {
  id: 'notes',
  beforeDatasetsDraw(c, args, o) {
    const a = c.chartArea, ctx = c.ctx;
    const cx = a.left + o.fx * (a.right - a.left);
    ctx.save();
    ctx.font = 'bold 12px "Liberation Sans", Arial, sans-serif';
    ctx.textAlign = 'center';
    ctx.textBaseline = 'middle';
    o.lines.forEach((t, i) => {
      ctx.save();
      ctx.translate(cx, o.y0 + i * o.gap);
      ctx.scale(0.88, 1);
      ctx.fillStyle = NOTE_COLORS[i];
      ctx.fillText(t, 0, 0);
      ctx.restore();
    });
    ctx.restore();
  },
  afterDraw(c, args, o) {
    const ctx = c.ctx;
    ctx.save();
    ctx.beginPath();
    ctx.arc(o.bx, o.by, 11.5, 0, Math.PI * 2);
    ctx.fillStyle = '#fff';
    ctx.fill();
    ctx.lineWidth = 2;
    ctx.strokeStyle = NAVY;
    ctx.stroke();
    ctx.fillStyle = NAVY;
    ctx.font = 'bold 17px "Liberation Sans", Arial, sans-serif';
    ctx.textAlign = 'center';
    ctx.textBaseline = 'middle';
    ctx.fillText(o.letter, o.bx, o.by + 1);
    ctx.restore();
  }
};

function axisOpts(min, max, step, dec, titleText, titleSize, titlePad, fit) {
  return {
    type: 'linear', min: min, max: max,
    afterFit(s) { fit(s); s.paddingLeft = 0; s.paddingRight = 0; s.paddingTop = 0; s.paddingBottom = 0; },
    border: {display: false},
    grid: {
      color: '#ffffff',
      lineWidth: ctx => (ctx.tick && isMajor(ctx.tick.value, step)) ? 1.2 : 0.5,
      tickLength: 4,
      tickColor: ctx => (ctx.tick && isMajor(ctx.tick.value, step)) ? '#333333' : 'rgba(0,0,0,0)'
    },
    ticks: {
      stepSize: step / 2, includeBounds: false, autoSkip: false, maxRotation: 0, maxTicksLimit: 100,
      color: '#4d4d4d', font: {size: 14}, padding: 3,
      callback: v => isMajor(v, step) ? Number(v).toFixed(dec) : ''
    },
    title: {display: true, text: titleText, color: '#000', font: {size: titleSize}, padding: titlePad}
  };
}

panels.forEach(p => {
  const col = COLS[p.col], row = ROWS[p.row];
  const cv = document.createElement('canvas');
  cv.width = col.w; cv.height = row.h;
  cv.style.left = col.l + 'px'; cv.style.top = row.t + 'px';
  cv.style.width = col.w + 'px'; cv.style.height = row.h + 'px';
  document.body.appendChild(cv);

  const yW = p.plot[0] - col.l;
  const padT = p.plot[1] - row.t;
  const padR = col.l + col.w - p.plot[2];
  const xH = row.t + row.h - p.plot[3];

  const datasets = [
    curve(p.gam, '#ff0000', 4.5, 1),
    ...band(p.gam, 'rgba(255,0,0,0.11)', 2),
    curve(p.pm, '#4166ee', 4, 3),
    ...band(p.pm, 'rgba(130,130,130,0.2)', 4),
    curve(p.lm, '#3f8a1e', 3.5, 5),
    ...band(p.lm, 'rgba(70,140,40,0.12)', 6),
    {data: p.pts.map(r => ({x: r[0], y: r[1]})), showLine: false, pointRadius: 3.3,
      pointBackgroundColor: 'rgba(0,0,0,0.4)', pointBorderColor: 'rgba(0,0,0,0.6)', pointBorderWidth: 0.8, order: 7}
  ];

  new Chart(cv, {
    type: 'line',
    data: {datasets: datasets},
    options: {
      responsive: false,
      animation: false,
      events: [],
      layout: {padding: {top: padT, right: padR, left: 0, bottom: 0}},
      plugins: {
        legend: {display: false},
        tooltip: {enabled: false},
        notes: {lines: p.notes, fx: p.fx, y0: p.ty - row.t, gap: p.gap,
          bx: p.badge[0] - col.l, by: p.badge[1] - row.t, letter: p.id}
      },
      scales: {
        x: axisOpts(p.xr[0], p.xr[1], p.xs, p.xd, p.xt, 16, {top: 0, bottom: 4.4}, s => { s.height = xH; }),
        y: axisOpts(p.yr[0], p.yr[1], p.ys, p.yd, p.yt, 15, {top: col.tp, bottom: 0}, s => { s.width = yW; })
      }
    },
    plugins: [panelBg, notesPlugin]
  });
});
</script>
</body>
</html>
